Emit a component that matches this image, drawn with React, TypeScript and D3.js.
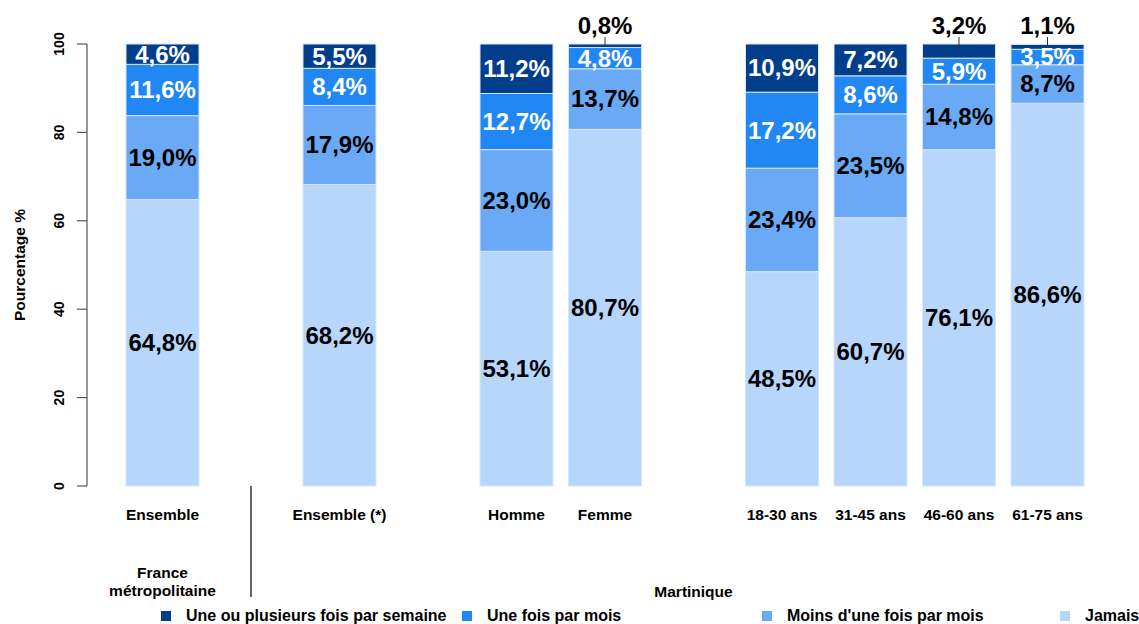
import React from 'react'
import { scaleLinear, stack } from 'd3'

// categories, in drawing order, grouped as in the original figure
const groups: string[][] = [
  ['Ensemble'],
  ['Ensemble (*)'],
  ['Homme', 'Femme'],
  ['18-30 ans', '31-45 ans', '46-60 ans', '61-75 ans']
]

const seriesNames = [
  'Jamais',
  "Moins d'une fois par mois",
  'Une fois par mois',
  'Une ou plusieurs fois par semaine'
]

// values in % per category (same order as groups, flattened)
const jamais = [64.8, 68.2, 53.1, 80.7, 48.5, 60.7, 76.1, 86.6]
const moinsUneFois = [19.0, 17.9, 23.0, 13.7, 23.4, 23.5, 14.8, 8.7]
const uneFoisMois = [11.6, 8.4, 12.7, 4.8, 17.2, 8.6, 5.9, 3.5]
const semaine = [4.6, 5.5, 11.2, 0.8, 10.9, 7.2, 3.2, 1.1]

const yTicks = [0, 20, 40, 60, 80, 100]
const regionLabels = ['France\nmétropolitaine', 'Martinique']

const COLORS = ['#b7d6fc', '#6aa9f6', '#2187f4', '#023e8c']
const LABEL_FILL = ['#000', '#000', '#fff', '#fff']
const FONT = '"Liberation Sans", Arial, sans-serif'

const W = 1139
const H = 624
const BAR_W = 73
const OUTSIDE_BELOW = 3.4

const fmt = (v: number) => v.toFixed(1).replace('.', ',') + '%'

export default function App() {
  const categories = groups.flat()
  const values = [jamais, moinsUneFois, uneFoisMois, semaine]

  // slot index of each bar: one empty slot between groups
  const slots: number[] = []
  let s = 0
  groups.forEach((g, gi) => {
    if (gi > 0) s += 1
    g.forEach(() => {
      slots.push(s)
      s += 1
    })
  })

  const x = scaleLinear().domain([0, slots[slots.length - 1]]).range([126, 1011])
  const y = scaleLinear().domain([0, 100]).range([486, 44])

  const rows = categories.map((c, i) => {
    const r: any = { cat: c }
    seriesNames.forEach((n, k) => (r[n] = values[k][i]))
    return r
  })
  const stacked = stack<any>().keys(seriesNames)(rows)

  const cx = (i: number) => x(slots[i]) + BAR_W / 2

  // separator between France métropolitaine and Martinique
  const sepX = (x(slots[0]) + BAR_W + x(slots[1])) / 2
  const martiniqueX = (cx(1) + cx(categories.length - 1)) / 2

  const legendX = [186, 487, 787, 1085]
  const legendOrder = [3, 2, 1, 0]

  return (
    <svg width={W} height={H} style={{ position: 'absolute', left: 0, top: 0, background: '#fff' }} fontFamily={FONT} fontWeight="bold">
      {/* y axis */}
      <g>
        <line x1={87} x2={87} y1={y(0)} y2={y(100)} stroke="#555" strokeWidth={1.2} />
        {yTicks.map((t) => (
          <g key={t}>
            <line x1={77} x2={87} y1={y(t)} y2={y(t)} stroke="#555" strokeWidth={1.2} />
            <text transform={`translate(64 ${y(t)}) rotate(-90)`} textAnchor="middle" fontSize={14} fill="#000">
              {t}
            </text>
          </g>
        ))}
        <text transform={`translate(25 ${y(50)}) rotate(-90)`} textAnchor="middle" fontSize={15.5} fill="#000">
          Pourcentage %
        </text>
      </g>

      {/* bars */}
      {stacked.map((layer, k) => (
        <g key={layer.key}>
          {layer.map((d, i) => (
            <rect
              key={i}
              x={x(slots[i])}
              width={BAR_W}
              y={y(d[1])}
              height={y(d[0]) - y(d[1])}
              fill={COLORS[k]}
              stroke="#d6e6fa"
              strokeWidth={1}
            />
          ))}
        </g>
      ))}

      {/* value labels */}
      {stacked.map((layer, k) => (
        <g key={'l' + layer.key}>
          {layer.map((d, i) => {
            const raw = values[k][i]
            const mid = y((d[0] + d[1]) / 2)
            if (raw < OUTSIDE_BELOW) {
              return (
                <g key={i}>
                  <line x1={cx(i)} x2={cx(i)} y1={mid} y2={37} stroke="#333" strokeWidth={1} />
                  <text x={cx(i)} y={26} dy="0.35em" textAnchor="middle" fontSize={24} fill="#000">
                    {fmt(raw)}
                  </text>
                </g>
              )
            }
            return (
              <text key={i} x={cx(i)} y={mid} dy="0.35em" textAnchor="middle" fontSize={24} fill={LABEL_FILL[k]}>
                {fmt(raw)}
              </text>
            )
          })}
        </g>
      ))}

      {/* category labels */}
      {categories.map((c, i) => (
        <text key={c} x={cx(i)} y={520} textAnchor="middle" fontSize={15.5} fill="#000">
          {c}
        </text>
      ))}

      <line x1={sepX} x2={sepX} y1={486} y2={597} stroke="#666" strokeWidth={2} />

      <text x={cx(0)} y={578} textAnchor="middle" fontSize={15.5} fill="#000">
        {regionLabels[0].split('\n').map((t, i) => (
          <tspan key={i} x={cx(0)} dy={i === 0 ? 0 : 18}>
            {t}
          </tspan>
        ))}
      </text>
      <text x={martiniqueX} y={597} textAnchor="middle" fontSize={15.5} fill="#000">
        {regionLabels[1]}
      </text>

      {/* legend */}
      {legendOrder.map((k, j) => (
        <g key={k}>
          <rect x={legendX[j] - 25} y={611} width={10} height={10} fill={COLORS[k]} />
          <text x={legendX[j]} y={621} fontSize={16} fill="#000">
            {seriesNames[k]}
          </text>
        </g>
      ))}
    </svg>
  )
}
